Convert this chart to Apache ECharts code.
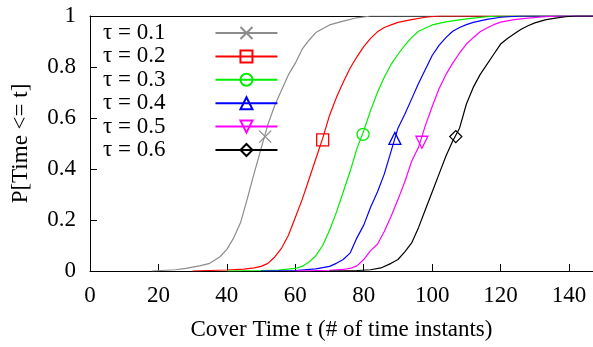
<!DOCTYPE html>
<html>
<head>
<meta charset="utf-8">
<script src="https://cdn.jsdelivr.net/npm/echarts@6/dist/echarts.min.js"></script>
<style>
  html, body { margin: 0; padding: 0; background: #fff; }
  #chart { width: 593px; height: 347px; }
</style>
</head>
<body>
<div id="chart"></div>
<script>
// Cover time CDF curves, one per tau
const names = ['τ = 0.1', 'τ = 0.2', 'τ = 0.3', 'τ = 0.4', 'τ = 0.5', 'τ = 0.6'];

const t01 = [18, 25, 28, 32, 35, 38, 40, 42, 44, 46, 48, 50, 52, 54, 56, 58, 60, 62, 64, 66, 68, 70, 74, 78, 82, 147];
const p01 = [0, 0.005, 0.01, 0.02, 0.03, 0.056, 0.085, 0.13, 0.19, 0.285, 0.385, 0.48, 0.575, 0.65, 0.71, 0.77, 0.815, 0.87, 0.905, 0.935, 0.95, 0.965, 0.98, 0.993, 1, 1];

const t02 = [30, 35, 40, 45, 48, 50, 52, 54, 56, 58, 60, 62, 64, 66, 68, 70, 72, 74, 76, 78, 80, 82, 84, 86, 88, 90, 94, 98, 102, 147];
const p02 = [0, 0.002, 0.004, 0.007, 0.012, 0.018, 0.03, 0.055, 0.09, 0.14, 0.21, 0.28, 0.36, 0.44, 0.52, 0.61, 0.68, 0.74, 0.795, 0.84, 0.88, 0.912, 0.938, 0.955, 0.965, 0.975, 0.986, 0.995, 1, 1];

const t03 = [40, 50, 55, 60, 62, 64, 66, 68, 70, 72, 74, 76, 78, 80, 82, 84, 86, 88, 90, 92, 94, 96, 100, 104, 108, 112, 116, 120, 147];
const p03 = [0, 0.002, 0.004, 0.01, 0.018, 0.035, 0.06, 0.1, 0.16, 0.23, 0.31, 0.39, 0.48, 0.55, 0.63, 0.7, 0.76, 0.81, 0.85, 0.885, 0.915, 0.94, 0.965, 0.977, 0.985, 0.992, 0.997, 1, 1];

const t04 = [50, 60, 66, 70, 72, 74, 76, 78, 80, 82, 84, 86, 88, 90, 92, 94, 96, 98, 100, 102, 104, 106, 108, 110, 112, 116, 120, 126, 147];
const p04 = [0, 0.002, 0.008, 0.018, 0.03, 0.045, 0.07, 0.13, 0.18, 0.25, 0.31, 0.38, 0.47, 0.56, 0.615, 0.675, 0.735, 0.79, 0.845, 0.885, 0.915, 0.94, 0.955, 0.966, 0.975, 0.987, 0.995, 1, 1];

const t05 = [60, 70, 74, 76, 78, 80, 82, 84, 86, 88, 90, 92, 94, 96, 98, 100, 102, 104, 106, 108, 110, 112, 114, 116, 118, 120, 124, 128, 132, 137, 147];
const p05 = [0, 0.003, 0.006, 0.01, 0.02, 0.045, 0.08, 0.105, 0.155, 0.215, 0.28, 0.35, 0.43, 0.485, 0.57, 0.645, 0.715, 0.77, 0.815, 0.855, 0.89, 0.915, 0.938, 0.953, 0.966, 0.976, 0.986, 0.992, 0.996, 1, 1];

const t06 = [70, 78, 82, 85, 88, 90, 92, 94, 96, 98, 100, 102, 104, 106, 108, 110, 112, 114, 116, 118, 120, 122, 124, 126, 128, 130, 133, 136, 139, 142, 147];
const p06 = [0, 0.002, 0.005, 0.012, 0.03, 0.045, 0.075, 0.11, 0.17, 0.24, 0.31, 0.38, 0.45, 0.51, 0.56, 0.655, 0.72, 0.77, 0.81, 0.85, 0.89, 0.912, 0.93, 0.948, 0.962, 0.973, 0.985, 0.992, 0.997, 1, 1];

// one marker per curve
const markerX = [51.2, 68.0, 79.8, 89.1, 97.0, 106.9];
const markerY = [0.527, 0.514, 0.536, 0.52, 0.505, 0.527];

const xTicks = [0, 20, 40, 60, 80, 100, 120, 140];
const yTicks = [0, 0.2, 0.4, 0.6, 0.8, 1];

const tList = [t01, t02, t03, t04, t05, t06];
const pList = [p01, p02, p03, p04, p05, p06];
const colors = ['#8c8c8c', '#ff0000', '#00ee00', '#0000ff', '#ff00ff', '#000000'];
const symbols = ['path://M0,0L10,10M10,0L0,10', 'rect', 'circle', 'triangle', 'triangle', 'diamond'];
const rotates = [0, 0, 0, 0, 180, 0];

const font = 'Liberation Serif, Times New Roman, serif';

const series = names.map((name, i) => ({
  name: name,
  type: 'line',
  data: tList[i].map((t, j) => [t, pList[i][j]]),
  showSymbol: false,
  symbol: symbols[i],
  symbolRotate: rotates[i],
  symbolSize: 12,
  lineStyle: { color: colors[i], width: 1.2 },
  itemStyle: { color: 'transparent', borderColor: colors[i], borderWidth: 1.3 },
  emphasis: { disabled: true },
  markPoint: {
    symbol: symbols[i],
    symbolRotate: rotates[i],
    symbolSize: 12,
    itemStyle: { color: 'transparent', borderColor: colors[i], borderWidth: 1.3 },
    label: { show: false },
    data: [{ coord: [markerX[i], markerY[i]] }],
  },
}));

const chart = echarts.init(document.getElementById('chart'), null, { renderer: 'canvas' });

chart.setOption({
  animation: false,
  backgroundColor: '#fff',
  grid: { left: 90, right: 0, top: 16, bottom: 76 },
  legend: {
    data: names,
    orient: 'vertical',
    left: 98,
    top: 16.5,
    align: 'right',
    itemWidth: 62,
    itemHeight: 15,
    itemGap: 0.4,
    selectedMode: false,
    textStyle: {
      color: '#000',
      fontFamily: font,
      fontSize: 23,
      lineHeight: 23,
      padding: [0, 45, 0, 0],
    },
  },
  xAxis: [
    {
      type: 'value',
      min: 0,
      max: 147,
      interval: 20,
      name: 'Cover Time t (# of time instants)',
      nameLocation: 'middle',
      nameGap: 47,
      nameTextStyle: { color: '#000', fontFamily: font, fontSize: 23 },
      axisLine: { lineStyle: { color: '#000', width: 1 } },
      axisTick: { inside: true, length: 7, lineStyle: { color: '#000' }, customValues: xTicks },
      axisLabel: { color: '#000', fontFamily: font, fontSize: 23, margin: 13, customValues: xTicks },
      splitLine: { show: false },
    },
    {
      type: 'value',
      position: 'top',
      min: 0,
      max: 147,
      axisLine: { show: true, onZero: false, lineStyle: { color: '#000', width: 1 } },
      axisTick: { show: false },
      axisLabel: { show: false },
      splitLine: { show: false },
    },
  ],
  yAxis: {
    type: 'value',
    min: 0,
    max: 1,
    interval: 0.2,
    name: 'P[Time <= t]',
    nameLocation: 'middle',
    nameRotate: 90,
    nameGap: 58,
    nameTextStyle: { color: '#000', fontFamily: font, fontSize: 23 },
    axisLine: { show: true, lineStyle: { color: '#000', width: 1 } },
    axisTick: { show: true, inside: true, length: 7, lineStyle: { color: '#000' }, customValues: yTicks },
    axisLabel: {
      color: '#000', fontFamily: font, fontSize: 23, margin: 14, customValues: yTicks,
      formatter: v => String(+v.toFixed(1)),
    },
    splitLine: { show: false },
  },
  series: series,
});
</script>
</body>
</html>
